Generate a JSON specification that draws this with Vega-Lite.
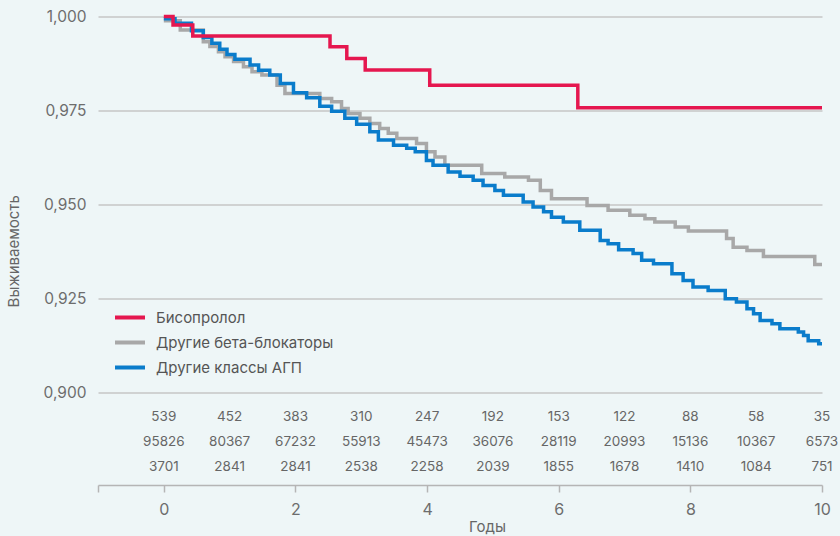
{
  "$schema": "https://vega.github.io/schema/vega-lite/v6.json",
  "autosize": "none",
  "width": 724,
  "height": 468.5,
  "padding": {"left": 98, "top": 16.5, "right": 18, "bottom": 51},
  "background": "#eef6f7",
  "config": {"view": {"stroke": null}, "font": "Inter"},
  "datasets": {
    "curves": [
      {"series": "Другие бета-блокаторы", "t": 0, "s": 0.9989},
      {"series": "Другие бета-блокаторы", "t": 0.25, "s": 0.9964},
      {"series": "Другие бета-блокаторы", "t": 0.60, "s": 0.9933},
      {"series": "Другие бета-блокаторы", "t": 0.70, "s": 0.9920},
      {"series": "Другие бета-блокаторы", "t": 0.83, "s": 0.9906},
      {"series": "Другие бета-блокаторы", "t": 0.93, "s": 0.9893},
      {"series": "Другие бета-блокаторы", "t": 1.06, "s": 0.9880},
      {"series": "Другие бета-блокаторы", "t": 1.21, "s": 0.9866},
      {"series": "Другие бета-блокаторы", "t": 1.34, "s": 0.9853},
      {"series": "Другие бета-блокаторы", "t": 1.49, "s": 0.9844},
      {"series": "Другие бета-блокаторы", "t": 1.72, "s": 0.9817},
      {"series": "Другие бета-блокаторы", "t": 1.84, "s": 0.9795},
      {"series": "Другие бета-блокаторы", "t": 2.37, "s": 0.9782},
      {"series": "Другие бета-блокаторы", "t": 2.55, "s": 0.9773},
      {"series": "Другие бета-блокаторы", "t": 2.70, "s": 0.9755},
      {"series": "Другие бета-блокаторы", "t": 2.80, "s": 0.9742},
      {"series": "Другие бета-блокаторы", "t": 2.98, "s": 0.9729},
      {"series": "Другие бета-блокаторы", "t": 3.13, "s": 0.9715},
      {"series": "Другие бета-блокаторы", "t": 3.28, "s": 0.9702},
      {"series": "Другие бета-блокаторы", "t": 3.41, "s": 0.9689},
      {"series": "Другие бета-блокаторы", "t": 3.54, "s": 0.9675},
      {"series": "Другие бета-блокаторы", "t": 3.84, "s": 0.9662},
      {"series": "Другие бета-блокаторы", "t": 3.99, "s": 0.9640},
      {"series": "Другие бета-блокаторы", "t": 4.12, "s": 0.9626},
      {"series": "Другие бета-блокаторы", "t": 4.27, "s": 0.9604},
      {"series": "Другие бета-блокаторы", "t": 4.83, "s": 0.9582},
      {"series": "Другие бета-блокаторы", "t": 5.18, "s": 0.9573},
      {"series": "Другие бета-блокаторы", "t": 5.54, "s": 0.9564},
      {"series": "Другие бета-блокаторы", "t": 5.72, "s": 0.9537},
      {"series": "Другие бета-блокаторы", "t": 5.89, "s": 0.9515},
      {"series": "Другие бета-блокаторы", "t": 6.43, "s": 0.9497},
      {"series": "Другие бета-блокаторы", "t": 6.75, "s": 0.9484},
      {"series": "Другие бета-блокаторы", "t": 7.08, "s": 0.9471},
      {"series": "Другие бета-блокаторы", "t": 7.31, "s": 0.9462},
      {"series": "Другие бета-блокаторы", "t": 7.46, "s": 0.9453},
      {"series": "Другие бета-блокаторы", "t": 7.77, "s": 0.9440},
      {"series": "Другие бета-блокаторы", "t": 7.97, "s": 0.9429},
      {"series": "Другие бета-блокаторы", "t": 8.55, "s": 0.9409},
      {"series": "Другие бета-блокаторы", "t": 8.65, "s": 0.9386},
      {"series": "Другие бета-блокаторы", "t": 8.86, "s": 0.9377},
      {"series": "Другие бета-блокаторы", "t": 9.11, "s": 0.9361},
      {"series": "Другие бета-блокаторы", "t": 9.89, "s": 0.9340},
      {"series": "Другие бета-блокаторы", "t": 10.0, "s": 0.9340},
      {"series": "Другие классы АГП", "t": 0, "s": 0.9994},
      {"series": "Другие классы АГП", "t": 0.17, "s": 0.9982},
      {"series": "Другие классы АГП", "t": 0.42, "s": 0.9962},
      {"series": "Другие классы АГП", "t": 0.60, "s": 0.9944},
      {"series": "Другие классы АГП", "t": 0.73, "s": 0.9929},
      {"series": "Другие классы АГП", "t": 0.85, "s": 0.9913},
      {"series": "Другие классы АГП", "t": 0.96, "s": 0.9899},
      {"series": "Другие классы АГП", "t": 1.08, "s": 0.9886},
      {"series": "Другие классы АГП", "t": 1.31, "s": 0.9871},
      {"series": "Другие классы АГП", "t": 1.44, "s": 0.9857},
      {"series": "Другие классы АГП", "t": 1.61, "s": 0.9844},
      {"series": "Другие классы АГП", "t": 1.77, "s": 0.9822},
      {"series": "Другие классы АГП", "t": 1.97, "s": 0.9797},
      {"series": "Другие классы АГП", "t": 2.17, "s": 0.9784},
      {"series": "Другие классы АГП", "t": 2.37, "s": 0.9761},
      {"series": "Другие классы АГП", "t": 2.55, "s": 0.9748},
      {"series": "Другие классы АГП", "t": 2.75, "s": 0.9729},
      {"series": "Другие классы АГП", "t": 2.93, "s": 0.9713},
      {"series": "Другие классы АГП", "t": 3.13, "s": 0.9693},
      {"series": "Другие классы АГП", "t": 3.26, "s": 0.9671},
      {"series": "Другие классы АГП", "t": 3.49, "s": 0.9657},
      {"series": "Другие классы АГП", "t": 3.69, "s": 0.9649},
      {"series": "Другие классы АГП", "t": 3.82, "s": 0.9640},
      {"series": "Другие классы АГП", "t": 3.99, "s": 0.9617},
      {"series": "Другие классы АГП", "t": 4.09, "s": 0.9604},
      {"series": "Другие классы АГП", "t": 4.32, "s": 0.9586},
      {"series": "Другие классы АГП", "t": 4.50, "s": 0.9575},
      {"series": "Другие классы АГП", "t": 4.70, "s": 0.9564},
      {"series": "Другие классы АГП", "t": 4.85, "s": 0.9550},
      {"series": "Другие классы АГП", "t": 5.03, "s": 0.9537},
      {"series": "Другие классы АГП", "t": 5.16, "s": 0.9524},
      {"series": "Другие классы АГП", "t": 5.46, "s": 0.9506},
      {"series": "Другие классы АГП", "t": 5.61, "s": 0.9493},
      {"series": "Другие классы АГП", "t": 5.77, "s": 0.9480},
      {"series": "Другие классы АГП", "t": 5.89, "s": 0.9466},
      {"series": "Другие классы АГП", "t": 6.07, "s": 0.9453},
      {"series": "Другие классы АГП", "t": 6.32, "s": 0.9431},
      {"series": "Другие классы АГП", "t": 6.63, "s": 0.9404},
      {"series": "Другие классы АГП", "t": 6.75, "s": 0.9395},
      {"series": "Другие классы АГП", "t": 6.91, "s": 0.9379},
      {"series": "Другие классы АГП", "t": 7.13, "s": 0.9369},
      {"series": "Другие классы АГП", "t": 7.26, "s": 0.9351},
      {"series": "Другие классы АГП", "t": 7.44, "s": 0.9342},
      {"series": "Другие классы АГП", "t": 7.72, "s": 0.9315},
      {"series": "Другие классы АГП", "t": 7.89, "s": 0.9297},
      {"series": "Другие классы АГП", "t": 8.04, "s": 0.9280},
      {"series": "Другие классы АГП", "t": 8.27, "s": 0.9271},
      {"series": "Другие классы АГП", "t": 8.53, "s": 0.9249},
      {"series": "Другие классы АГП", "t": 8.70, "s": 0.9240},
      {"series": "Другие классы АГП", "t": 8.86, "s": 0.9222},
      {"series": "Другие классы АГП", "t": 8.96, "s": 0.9209},
      {"series": "Другие классы АГП", "t": 9.06, "s": 0.9191},
      {"series": "Другие классы АГП", "t": 9.24, "s": 0.9182},
      {"series": "Другие классы АГП", "t": 9.36, "s": 0.9169},
      {"series": "Другие классы АГП", "t": 9.64, "s": 0.9160},
      {"series": "Другие классы АГП", "t": 9.72, "s": 0.9151},
      {"series": "Другие классы АГП", "t": 9.79, "s": 0.9137},
      {"series": "Другие классы АГП", "t": 9.95, "s": 0.9129},
      {"series": "Другие классы АГП", "t": 10.0, "s": 0.9129},
      {"series": "Бисопролол", "t": 0, "s": 1.0},
      {"series": "Бисопролол", "t": 0.14, "s": 0.99773},
      {"series": "Бисопролол", "t": 0.44, "s": 0.9948},
      {"series": "Бисопролол", "t": 2.525, "s": 0.99195},
      {"series": "Бисопролол", "t": 2.78, "s": 0.98885},
      {"series": "Бисопролол", "t": 3.06, "s": 0.98573},
      {"series": "Бисопролол", "t": 4.04, "s": 0.98173},
      {"series": "Бисопролол", "t": 6.29, "s": 0.97568},
      {"series": "Бисопролол", "t": 10.0, "s": 0.97568}
    ],
    "risk": [
      {"row": "r1", "year": 0, "n": 539}, {"row": "r1", "year": 1, "n": 452}, {"row": "r1", "year": 2, "n": 383},
      {"row": "r1", "year": 3, "n": 310}, {"row": "r1", "year": 4, "n": 247}, {"row": "r1", "year": 5, "n": 192},
      {"row": "r1", "year": 6, "n": 153}, {"row": "r1", "year": 7, "n": 122}, {"row": "r1", "year": 8, "n": 88},
      {"row": "r1", "year": 9, "n": 58}, {"row": "r1", "year": 10, "n": 35},
      {"row": "r2", "year": 0, "n": 95826}, {"row": "r2", "year": 1, "n": 80367}, {"row": "r2", "year": 2, "n": 67232},
      {"row": "r2", "year": 3, "n": 55913}, {"row": "r2", "year": 4, "n": 45473}, {"row": "r2", "year": 5, "n": 36076},
      {"row": "r2", "year": 6, "n": 28119}, {"row": "r2", "year": 7, "n": 20993}, {"row": "r2", "year": 8, "n": 15136},
      {"row": "r2", "year": 9, "n": 10367}, {"row": "r2", "year": 10, "n": 6573},
      {"row": "r3", "year": 0, "n": 3701}, {"row": "r3", "year": 1, "n": 2841}, {"row": "r3", "year": 2, "n": 2841},
      {"row": "r3", "year": 3, "n": 2538}, {"row": "r3", "year": 4, "n": 2258}, {"row": "r3", "year": 5, "n": 2039},
      {"row": "r3", "year": 6, "n": 1855}, {"row": "r3", "year": 7, "n": 1678}, {"row": "r3", "year": 8, "n": 1410},
      {"row": "r3", "year": 9, "n": 1084}, {"row": "r3", "year": 10, "n": 751}
    ]
  },
  "layer": [
    {
      "data": {"name": "curves"},
      "mark": {"type": "line", "interpolate": "step-after", "strokeWidth": 3.5},
      "encoding": {
        "x": {
          "field": "t", "type": "quantitative",
          "scale": {"domain": [-1, 10], "nice": false, "zero": false},
          "axis": {
            "values": [-1, 0, 2, 4, 6, 8, 10],
            "format": "d",
            "labelExpr": "datum.value < 0 ? '' : datum.label",
            "labelFlush": false,
            "title": "Годы", "titleFontSize": 15, "titleFontWeight": "normal", "titleColor": "#666666",
            "titleX": 389, "titleY": 34, "titleBaseline": "top",
            "labelFontSize": 16, "labelColor": "#6d6d6d", "labelPadding": 9,
            "domainColor": "#b5b5b5", "domainWidth": 1.5,
            "tickColor": "#b5b5b5", "tickWidth": 1.5, "tickSize": 7,
            "grid": false
          }
        },
        "y": {
          "field": "s", "type": "quantitative",
          "scale": {"domain": [0.8753, 1.0], "nice": false, "zero": false},
          "axis": {
            "values": [0.9, 0.925, 0.95, 0.975, 1.0],
            "labelExpr": "replace(format(datum.value, '.3f'), '.', ',')",
            "title": "Выживаемость", "titleFontSize": 15, "titleFontWeight": "normal", "titleColor": "#666666",
            "titlePadding": 22,
            "labelFontSize": 15.5, "labelColor": "#6d6d6d", "labelPadding": 12,
            "domain": false, "ticks": false,
            "gridColor": "#c6c6c6", "gridWidth": 1.5
          }
        },
        "color": {
          "field": "series", "type": "nominal",
          "scale": {
            "domain": ["Бисопролол", "Другие бета-блокаторы", "Другие классы АГП"],
            "range": ["#e5174f", "#a8a8a8", "#0a7ccb"]
          },
          "legend": {
            "orient": "none", "legendX": 15, "legendY": 284, "title": null,
            "symbolType": "stroke", "symbolStrokeWidth": 4, "symbolSize": 900,
            "labelFontSize": 15, "labelColor": "#555555", "labelOffset": 9, "rowPadding": 0,
            "labelLimit": 400
          }
        }
      }
    },
    {
      "data": {"name": "risk"},
      "mark": {"type": "text", "fontSize": 13.5, "color": "#666666", "baseline": "middle"},
      "encoding": {
        "x": {"field": "year", "type": "quantitative"},
        "y": {
          "field": "row", "type": "ordinal",
          "scale": {"type": "point", "range": [400.5, 450.5], "padding": 0},
          "axis": null
        },
        "text": {"field": "n", "type": "quantitative", "format": "d"}
      }
    }
  ],
  "resolve": {"scale": {"y": "independent"}}
}
